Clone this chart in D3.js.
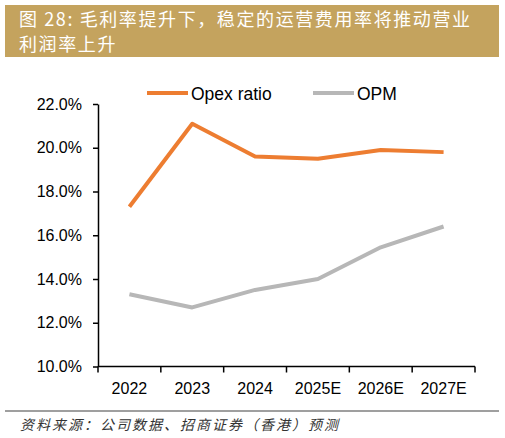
<html>
<head>
<meta charset="utf-8">
<script src="https://d3js.org/d3.v7.min.js"></script>
<style>
body { margin: 0; background: #fff; }
svg { display: block; }
.tick text { font-family: "Liberation Sans", Arial, sans-serif; font-size: 16px; fill: #000; }
</style>
</head>
<body>
<div id="chart"></div>
<script>
var years = ["2022", "2023", "2024", "2025E", "2026E", "2027E"];
var opexRatio = [17.3, 21.1, 19.6, 19.5, 19.9, 19.8];
var opm = [13.3, 12.7, 13.5, 14.0, 15.45, 16.4];
var yTicks = [10, 12, 14, 16, 18, 20, 22];
var seriesNames = ["Opex ratio", "OPM"];
var seriesColors = ["#ed7d31", "#b7b7b7"];

var width = 505, height = 438;

var svg = d3.select("#chart").append("svg")
  .attr("width", width).attr("height", height);

// title band
svg.append("rect").attr("x", 5).attr("y", 5).attr("width", 494).attr("height", 52)
  .attr("fill", "#c4a35e");
var title = svg.append("text")
  .attr("font-family", "'Noto Sans CJK SC', sans-serif")
  .attr("font-size", 18).attr("letter-spacing", 1.6).attr("fill", "#fff");
title.append("tspan").attr("x", 19).attr("y", 26).text("图 28: 毛利率提升下，稳定的运营费用率将推动营业");
title.append("tspan").attr("x", 19).attr("y", 51).text("利润率上升");

var xScale = d3.scaleBand().domain(years).range([98, 475]);
var yScale = d3.scaleLinear().domain([10, 22]).range([366.5, 104]);

var xAxis = d3.axisBottom(xScale).tickSize(6).tickSizeOuter(6).tickPadding(10);
var gx = svg.append("g").attr("transform", "translate(0," + yScale(10) + ")").call(xAxis);
// tick marks sit on the band edges, like the original
gx.selectAll(".tick line").remove();
gx.selectAll(".edge").data(years.concat(["end"])).enter().append("line")
  .attr("x1", function (d, i) { return 98 + i * xScale.bandwidth(); })
  .attr("x2", function (d, i) { return 98 + i * xScale.bandwidth(); })
  .attr("y1", 0).attr("y2", 6)
  .attr("stroke", "#000").attr("stroke-width", 1.5);
gx.select(".domain").attr("stroke-width", 1.5).attr("d", "M98,0H475");

var yAxis = d3.axisLeft(yScale).tickValues(yTicks)
  .tickFormat(function (d) { return d.toFixed(1) + "%"; })
  .tickSize(5).tickSizeOuter(0).tickPadding(11);
var gy = svg.append("g").attr("transform", "translate(98,0)").call(yAxis);
gy.select(".domain").attr("stroke-width", 1.5);
gy.selectAll(".tick line").attr("stroke-width", 1.5);

var line = d3.line()
  .x(function (d, i) { return xScale(years[i]) + xScale.bandwidth() / 2; })
  .y(function (d) { return yScale(d); });

[opm, opexRatio].forEach(function (s, k) {
  svg.append("path").datum(s)
    .attr("d", line)
    .attr("fill", "none")
    .attr("stroke", k === 0 ? seriesColors[1] : seriesColors[0])
    .attr("stroke-width", 4)
    .attr("stroke-linejoin", "round");
});

// legend
var legendX = [147, 313];
seriesNames.forEach(function (name, i) {
  svg.append("line")
    .attr("x1", legendX[i]).attr("x2", legendX[i] + 41)
    .attr("y1", 93).attr("y2", 93)
    .attr("stroke", seriesColors[i]).attr("stroke-width", 4);
  svg.append("text")
    .attr("x", legendX[i] + 44).attr("y", 99.5)
    .attr("font-family", "'Liberation Sans', Arial, sans-serif")
    .attr("font-size", 17.5).attr("fill", "#000")
    .text(name);
});

// footer
svg.append("line").attr("x1", 5).attr("x2", 499).attr("y1", 411).attr("y2", 411)
  .attr("stroke", "#7f7f7f").attr("stroke-width", 1.5);
svg.append("text").attr("x", 20).attr("y", 430)
  .attr("font-family", "'Noto Sans CJK SC', sans-serif")
  .attr("font-size", 14).attr("letter-spacing", 2).attr("font-style", "italic").attr("fill", "#333")
  .text("资料来源：公司数据、招商证券（香港）预测");
</script>
</body>
</html>
